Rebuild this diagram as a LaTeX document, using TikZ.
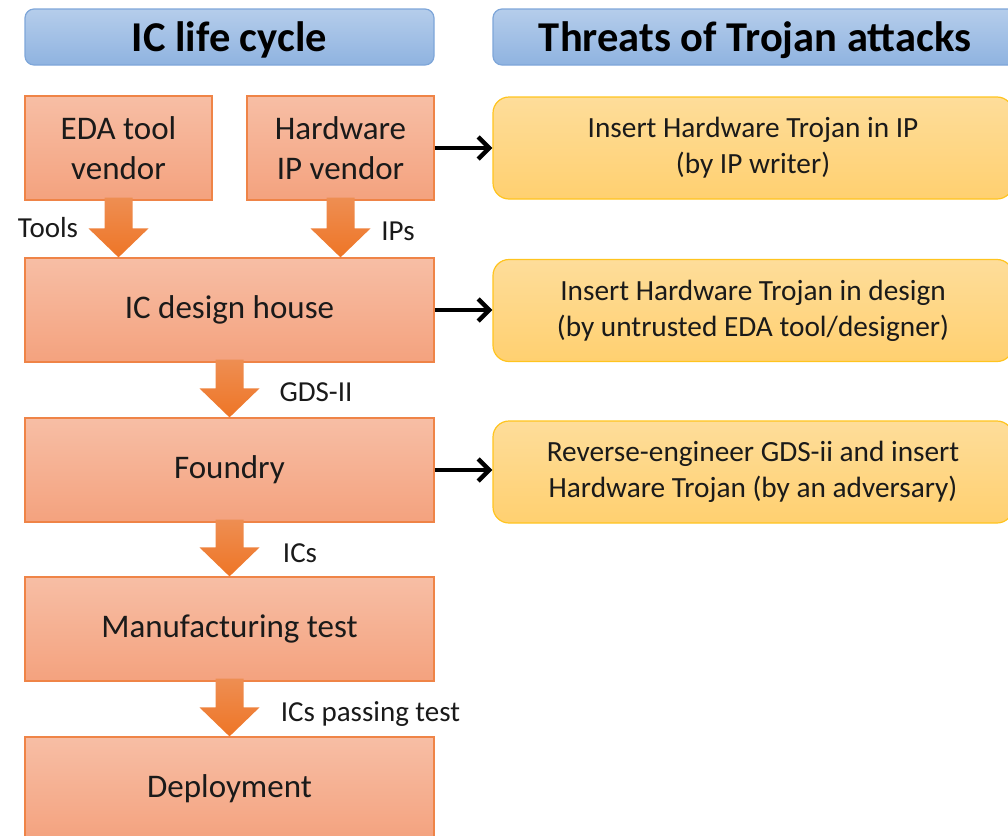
\documentclass[tikz,border=0pt]{standalone}
\usepackage{fontspec}
\setmainfont{Carlito}
\usetikzlibrary{arrows.meta,calc}
\definecolor{boxtop}{HTML}{F7BEA5}
\definecolor{boxbot}{HTML}{F4A27E}
\definecolor{boxline}{HTML}{EF8447}
\definecolor{hdtop}{HTML}{B5CDEB}
\definecolor{hdbot}{HTML}{8FB3E0}
\definecolor{hdline}{HTML}{7EA6D9}
\definecolor{yltop}{HTML}{FEDD9A}
\definecolor{ylbot}{HTML}{FFD070}
\definecolor{ylline}{HTML}{FFC41F}
\definecolor{artop}{HTML}{EE8E52}
\definecolor{arbot}{HTML}{EE7526}
\definecolor{txt}{HTML}{1A1A1A}
\tikzset{
  hdr/.style={draw=hdline, line width=1.2pt, top color=hdtop, bottom color=hdbot, rounded corners=9pt,
    minimum height=56, text height=30pt, text depth=2pt, text=black,
    font=\fontsize{42.5}{48}\selectfont\bfseries, inner sep=0pt},
  lc/.style={draw=boxline, line width=1.2pt, top color=boxtop, bottom color=boxbot,
    minimum height=104, text=txt, align=center, font=\fontsize{33}{40}\selectfont, inner sep=0pt},
  thr/.style={draw=ylline, line width=1.2pt, top color=yltop, bottom color=ylbot, rounded corners=16pt,
    minimum width=520, minimum height=102, text=txt, align=center, font=\fontsize{29.3}{36}\selectfont, inner sep=0pt},
  lbl/.style={text=txt, font=\fontsize{29}{33}\selectfont, inner sep=0pt},
  conn/.style={line width=4.5pt, -{Straight Barb[length=11pt,width=22pt,line width=4.5pt]}, black},
  blkarrow/.style={top color=artop, bottom color=arbot, draw=none}
}
\newcommand\blkarr[2]{%
  \path[blkarrow] let \p1=(#1), \p2=(#2) in
    (\x1-14pt,\y1+3pt) -- (\x1+14pt,\y1+3pt) -- (\x1+14pt,\y2+29pt) -- (\x1+30pt,\y2+29pt)
    -- (\x1,\y2) -- (\x1-30pt,\y2+29pt) -- (\x1-14pt,\y2+29pt) -- cycle;}
\begin{document}
\begin{tikzpicture}[x=1pt,y=-1pt]
\useasboundingbox (0,0) rectangle (1008,835);
\clip (0,0) rectangle (1008,835);
% headers
\node[hdr, minimum width=409] (h1) at (229.5,37) {IC life cycle};
\node[hdr, minimum width=524] (h2) at (755,37) {Threats of Trojan attacks};
% life cycle boxes
\node[lc, minimum width=187] (eda) at (118.5,148) {EDA tool\\vendor};
\node[lc, minimum width=187] (ipv) at (340.5,148) {Hardware\\IP vendor};
\node[lc, minimum width=409] (dh) at (229.5,310) {IC design house};
\node[lc, minimum width=409] (fd) at (229.5,470) {Foundry};
\node[lc, minimum width=409] (mt) at (229.5,629) {Manufacturing test};
\node[lc, minimum width=409] (dp) at (229.5,789) {Deployment};
% block arrows
\blkarr{eda.south}{dh.north}
\blkarr{ipv.south}{dh.north}
\blkarr{dh.south}{fd.north}
\blkarr{fd.south}{mt.north}
\blkarr{mt.south}{dp.north}
% labels
\node[lbl] (l1) at (48,228) {Tools};
\node[lbl] (l2) at (398,231) {IPs};
\node[lbl] (l3) at (316,392) {GDS-II};
\node[lbl] (l4) at (300,553) {ICs};
\node[lbl] (l5) at (370.5,714) {ICs passing test};
% threats
\node[thr] (t1) at (753,148) {Insert Hardware Trojan in IP\\(by IP writer)};
\node[thr] (t2) at (753,310.5) {Insert Hardware Trojan in design\\(by untrusted EDA tool/designer)};
\node[thr] (t3) at (753,472) {Reverse-engineer GDS-ii and insert\\Hardware Trojan (by an adversary)};
% connectors
\draw[conn] (ipv.east) -- (t1.west |- ipv.east);
\draw[conn] (dh.east) -- (t2.west |- dh.east);
\draw[conn] (fd.east) -- (t3.west |- fd.east);
\end{tikzpicture}
\end{document}
